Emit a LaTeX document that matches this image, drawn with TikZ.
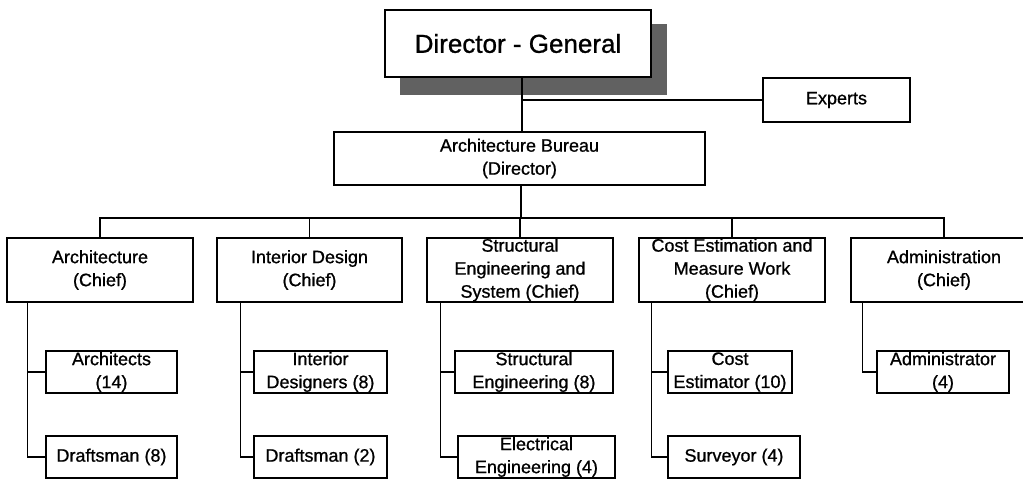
\documentclass[tikz,border=0pt]{standalone}
\usepackage{fontspec}
\setmainfont{Liberation Sans}[RawFeature={embolden=0.9}]
\begin{document}
\begin{tikzpicture}[x=1pt,y=-1pt,
  box/.style={draw=black, line width=1.1pt, fill=white, inner sep=0pt, align=center,
    font=\fontsize{18}{23}\selectfont},
  link/.style={draw=black, line width=1.7pt},
  shade/.style={fill=black!62, draw=none}]
\useasboundingbox (0,0) rectangle (1023,479);
\clip (0,0) rectangle (1023,479);

% top of the chart
\fill[shade] (400,24) rectangle (667,95);
\node[box, minimum width=266, minimum height=67, font=\fontsize{26}{30}\selectfont]
  (dg) at (518,43.5) {Director - General};
\node[box, minimum width=147, minimum height=44] (exp) at (836.5,100) {Experts};
\node[box, minimum width=371, minimum height=53] (ab) at (519.5,158.5)
  {Architecture Bureau\\(Director)};

% departments
\node[box, minimum width=186, minimum height=64] (arch) at (100,270) {Architecture\\(Chief)};
\node[box, minimum width=185, minimum height=64] (intd) at (309.5,270) {Interior Design\\(Chief)};
\node[box, minimum width=186, minimum height=64] (str) at (520,270)
  {Structural\\Engineering and\\System (Chief)};
\node[box, minimum width=186, minimum height=64] (cost) at (732,270)
  {Cost Estimation and\\Measure Work\\(Chief)};
\node[box, minimum width=186, minimum height=64] (adm) at (944,270) {Administration\\(Chief)};

% staff
\node[box, minimum width=131, minimum height=42] (archA) at (111.5,372) {Architects\\(14)};
\node[box, minimum width=131, minimum height=42] (archB) at (111.5,457) {Draftsman (8)};
\node[box, minimum width=133, minimum height=42] (intdA) at (320.5,372) {Interior\\Designers (8)};
\node[box, minimum width=133, minimum height=42] (intdB) at (320.5,457) {Draftsman (2)};
\node[box, minimum width=158, minimum height=42] (strA) at (534,372) {Structural\\Engineering (8)};
\node[box, minimum width=157, minimum height=42] (strB) at (536.5,457) {Electrical\\Engineering (4)};
\node[box, minimum width=124, minimum height=42] (costA) at (730,372) {Cost\\Estimator (10)};
\node[box, minimum width=132, minimum height=42] (costB) at (734,457) {Surveyor (4)};
\node[box, minimum width=132, minimum height=42] (admA) at (943,372) {Administrator\\(4)};

% upper connectors
\coordinate (top) at ([xshift=2.5]ab.north);
\draw[link] (top) -- (top |- dg.south);
\draw[link] (exp.west) -- (exp.west -| top);
\coordinate (bus) at (0,218);
\draw[link] ([xshift=1.5]ab.south) -- ([xshift=1.5]ab.south |- bus);
\draw[link] (arch.north) |- (adm.north |- bus) -- (adm.north);
\draw[link] (intd.north) -- (intd.north |- bus);
\draw[link] (str.north) -- (str.north |- bus);
\draw[link] (cost.north) -- (cost.north |- bus);

% staff spines
\coordinate (sArch) at ([xshift=21]arch.south west);
\draw[link] (sArch) |- (archB.west);
\draw[link] (sArch |- archA.west) -- (archA.west);
\coordinate (sIntd) at ([xshift=24]intd.south west);
\draw[link] (sIntd) |- (intdB.west);
\draw[link] (sIntd |- intdA.west) -- (intdA.west);
\coordinate (sStr) at ([xshift=14]str.south west);
\draw[link] (sStr) |- (strB.west);
\draw[link] (sStr |- strA.west) -- (strA.west);
\coordinate (sCost) at ([xshift=13]cost.south west);
\draw[link] (sCost) |- (costB.west);
\draw[link] (sCost |- costA.west) -- (costA.west);
\coordinate (sAdm) at ([xshift=12]adm.south west);
\draw[link] (sAdm) |- (admA.west);
\end{tikzpicture}
\end{document}
